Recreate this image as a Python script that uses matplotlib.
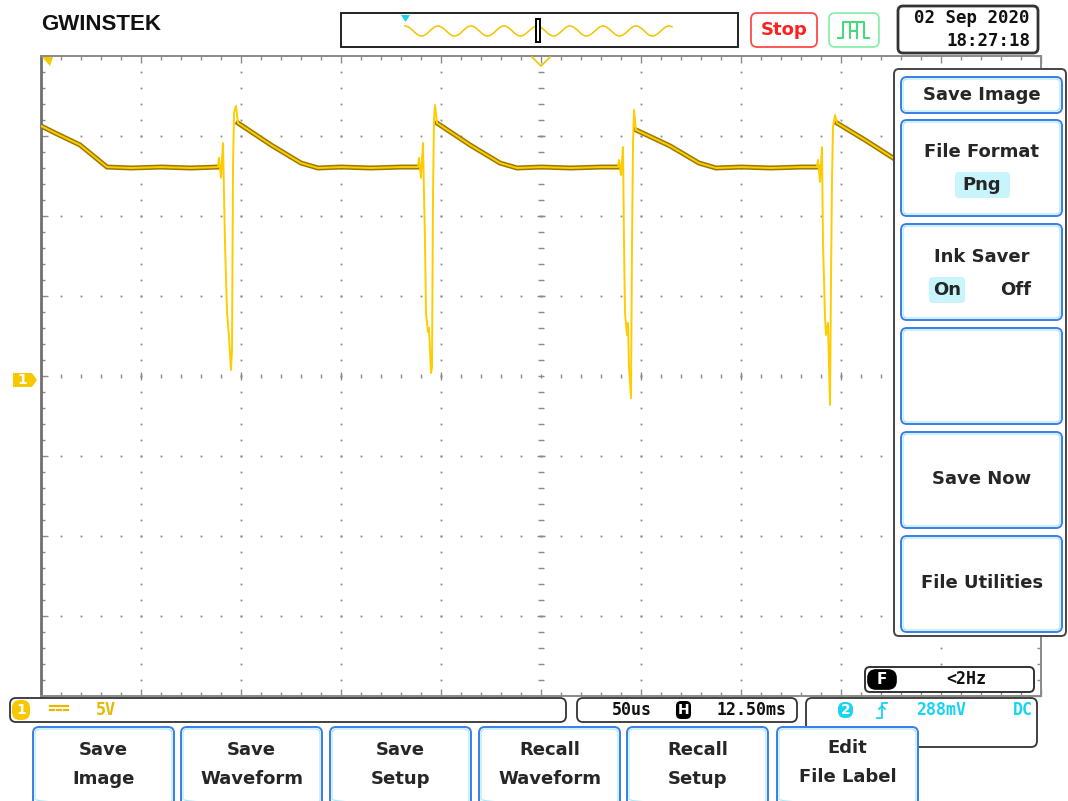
import numpy as np
import matplotlib.pyplot as plt
from matplotlib.patches import FancyBboxPatch, Polygon, Rectangle

W, H = 1068, 801

# CH1 trace: 5 V/div, 50 us/div
# time in us from screen centre, volts from the CH1 ground marker
settle_t = [
    [-250, -243, -230.5, -217, -205, -190, -175, -161.5],
    [-151.5, -135, -120, -111.5, -100, -85, -70, -61.5],
    [-52, -35.5, -20.5, -12, 0, 15, 30, 38.5],
    [47.5, 64.5, 79, 87.5, 100, 115, 130, 138],
    [148, 162, 176],
]
settle_v = [
    [15.63, 15.19, 14.44, 13.06, 13.0, 13.06, 13.0, 13.06],
    [15.81, 14.44, 13.31, 13.0, 13.06, 13.0, 13.06, 13.06],
    [15.81, 14.44, 13.31, 13.0, 13.06, 13.0, 13.06, 13.06],
    [15.38, 14.38, 13.31, 13.0, 13.06, 13.0, 13.06, 13.06],
    [15.81, 14.75, 13.63],
]
edge_t = [
    [-161, -160, -159, -158, -157, -156, -155, -154.5, -154, -153.5, -152.5],
    [-61, -60, -59, -58, -57.5, -56.5, -56, -55, -54.5, -54, -53.5, -53],
    [39, 40, 41, 41.5, 42, 43, 43.5, 44, 45, 45.5, 46, 46.5],
    [138.5, 139.5, 140.5, 141, 142, 142.5, 143.5, 144, 144.5, 145, 145.5, 146, 147],
]
edge_v = [
    [13.63, 12.38, 14.56, 8.31, 4.0, 2.44, 0.38, 1.63, 13.06, 16.44, 16.88],
    [13.63, 12.38, 14.56, 8.31, 3.94, 2.75, 3.0, 0.19, 0.56, 11.19, 16.0, 16.94],
    [13.5, 12.56, 14.31, 8.31, 3.94, 2.56, 3.31, 0.56, -1.38, 8.31, 14.44, 16.63],
    [13.5, 12.13, 14.31, 8.38, 3.69, 2.56, 3.31, 0.56, -1.81, 6.0, 12.25, 15.56, 16.31],
]

date_text = ["02 Sep 2020", "18:27:18"]
side_labels = ["Save Image", "File Format", "Ink Saver", "", "Save Now", "File Utilities"]
bottom_labels = [("Save", "Image"), ("Save", "Waveform"), ("Save", "Setup"),
                 ("Recall", "Waveform"), ("Recall", "Setup"), ("Edit", "File Label")]

YEL = "#ffcc00"
DARKYEL = "#9a7b00"
GRID = "#8a8a8a"
CYAN = "#19d3f0"
BLUE = "#3a7de6"
TXT = "#262626"
MONO = "DejaVu Sans Mono"

fig = plt.figure(figsize=(W / 100, H / 100), dpi=100)
fig.patch.set_facecolor("white")

# ---- scope graticule ----
ax = fig.add_axes([41 / W, 1 - 696 / H, 1000 / W, 640 / H])
ax.set_xlim(-250, 250)
ax.set_ylim(-20, 20)
ax.set_xticks(np.arange(-250, 251, 50))
ax.set_xticks(np.arange(-250, 251, 10), minor=True)
ax.set_yticks(np.arange(-20, 21, 5))
ax.set_yticks(np.arange(-20, 21, 1), minor=True)
ax.tick_params(which="both", direction="in", top=True, right=True, bottom=True, left=True,
               labelbottom=False, labelleft=False, color=GRID, width=1)
ax.tick_params(which="major", length=5)
ax.tick_params(which="minor", length=3)
for s in ax.spines.values():
    s.set_color(GRID)
    s.set_linewidth(1.4)
ax.spines["left"].set_color("#707070")
ax.spines["left"].set_linewidth(2)

xmaj = [x for x in range(-200, 201, 50) if x != 0]
ymaj = [y for y in range(-15, 16, 5) if y != 0]
ymin = np.arange(-19, 20, 1)
xmin = np.arange(-240, 241, 10)
for x in xmaj:
    ax.plot(np.full(len(ymin), x), ymin, "s", ms=1.3, color=GRID, mec="none", zorder=1)
for y in ymaj:
    ax.plot(xmin, np.full(len(xmin), y), "s", ms=1.3, color=GRID, mec="none", zorder=1)
ax.plot(np.zeros(len(ymin)), ymin, "_", ms=4, mew=1, color=GRID, zorder=1)
ax.plot(xmin, np.zeros(len(xmin)), "|", ms=3.5, mew=1, color=GRID, zorder=1)
ax.plot(np.zeros(len(ymaj)), ymaj, "_", ms=6, mew=1, color=GRID, zorder=1)
ax.plot(xmaj, np.zeros(len(xmaj)), "|", ms=6, mew=1, color=GRID, zorder=1)

# trace: dark dotted body on slow parts, bright line everywhere
full_t, full_v = list(settle_t[0]), list(settle_v[0])
for k in range(4):
    full_t += edge_t[k] + settle_t[k + 1]
    full_v += edge_v[k] + settle_v[k + 1]
for t, v in zip(settle_t, settle_v):
    ax.plot(t, v, color=DARKYEL, lw=3.6, solid_joinstyle="miter", zorder=2)
ax.plot(full_t, full_v, color=YEL, lw=1.4, zorder=3)

# ---- screen furniture in pixel coordinates ----
ui = fig.add_axes([0, 0, 1, 1], zorder=5)
ui.set_xlim(0, W)
ui.set_ylim(H, 0)
ui.axis("off")
ui.patch.set_alpha(0)


def rbox(x0, y0, x1, y1, ec, fc="white", lw=1.2, r=6, z=5):
    ui.add_patch(FancyBboxPatch((x0, y0), x1 - x0, y1 - y0,
                                boxstyle=f"round,pad=0,rounding_size={r}",
                                ec=ec, fc=fc, lw=lw, zorder=z))


def button(x0, y0, x1, y1):
    rbox(x0, y0, x1, y1, BLUE, lw=1.4, r=6, z=6)
    rbox(x0 + 2, y0 + 2, x1 - 2, y1 - 2, "#a6e8f7", fc="none", lw=0.8, r=5, z=6)


def label(x, y, s, **kw):
    kw.setdefault("fontsize", 13)
    kw.setdefault("fontweight", "bold")
    kw.setdefault("color", TXT)
    ui.text(x, y, s, ha=kw.pop("ha", "center"), va="center", zorder=8, **kw)


label(41, 24, "GWINSTEK", fontsize=16, family="Liberation Sans", ha="left", color="#111111")

# memory bar with small sine icon
ui.add_patch(Rectangle((341, 13), 397, 34, fc="white", ec="#222222", lw=1.4, zorder=5))
sx = np.linspace(405, 672, 300)
ui.plot(sx, 31 - 5 * np.cos((sx - 405) / 33 * 2 * np.pi), color="#f2c300", lw=1.1, zorder=6)
ui.add_patch(Polygon([[401, 15], [410, 15], [405.5, 22]], closed=True, fc=CYAN, ec="none", zorder=7))
ui.add_patch(Rectangle((536, 19), 4, 23, fc="white", ec="black", lw=1.4, zorder=7))

rbox(751, 13, 817, 47, "#ff4a4a", lw=1.3, r=6)
label(784, 30, "Stop", color="#ff2020")
rbox(829, 13, 879, 47, "#8af0aa", lw=1.3, r=6)
ui.plot([838, 843, 843, 864, 864, 869], [38, 38, 22, 22, 38, 38], color="#3fdc78", lw=1.4, zorder=7)
ui.plot([850, 850], [24, 38], color="#3fdc78", lw=1.4, zorder=7)
ui.plot([857, 857], [24, 38], color="#3fdc78", lw=1.4, zorder=7)
ui.plot([850, 857], [31, 31], color="#3fdc78", lw=1.4, zorder=7)

rbox(898, 6, 1038, 53, "#333333", lw=2.0, r=5)
label(1030, 18, date_text[0], fontsize=12.5, family=MONO, ha="right", color="#111111")
label(1030, 41, date_text[1], fontsize=12.5, family=MONO, ha="right", color="#111111")

# trigger position / ch1 markers
ui.plot([532, 541, 550], [57, 66, 57], color="#f2c300", lw=1.2, zorder=6)
ui.add_patch(Polygon([[42, 57], [53, 57], [50, 66]], closed=True, fc="#f7c800", ec="none", zorder=6))
ui.add_patch(Polygon([[13, 373], [32, 373], [37, 380], [32, 387], [13, 387]], closed=True,
                     fc="#f7c800", ec="none", zorder=6))
label(22, 380.5, "1", fontsize=10, color="white")

# side menu
rbox(894, 69, 1066, 636, "#444444", lw=1.4, r=5, z=5)
side_y = [(77, 113), (120, 216), (224, 320), (328, 424), (432, 528), (536, 632)]
for (y0, y1), lab in zip(side_y, side_labels):
    button(901, y0, 1062, y1)
label(982, 95, side_labels[0])
label(982, 152, side_labels[1])
rbox(955, 172, 1010, 198, "none", fc="#c8f5fb", r=4, z=7)
label(982, 185, "Png")
label(982, 257, side_labels[2])
rbox(929, 277, 965, 303, "none", fc="#c8f5fb", r=4, z=7)
label(947, 290, "On")
label(1016, 290, "Off")
label(982, 479, side_labels[4])
label(982, 583, side_labels[5])

# frequency readout
rbox(865, 667, 1034, 692, "#333333", lw=1.4, r=5)
rbox(868, 670, 896, 689, "black", fc="black", r=8, z=6)
label(882, 679.5, "F", fontsize=11, color="white")
label(966, 679.5, "<2Hz", fontsize=12, family=MONO, color="#111111")

# status bar
rbox(10, 698, 566, 722, "#333333", lw=1.3, r=6)
rbox(12, 700, 30, 720, "none", fc="#f7c800", r=8, z=6)
label(21, 710, "1", fontsize=10, color="white")
ui.plot([50, 68], [706, 706], color="#e8b800", lw=1.6, zorder=6)
ui.plot([50, 54], [710, 710], color="#e8b800", lw=1.6, zorder=6)
ui.plot([57, 61], [710, 710], color="#e8b800", lw=1.6, zorder=6)
ui.plot([64, 68], [710, 710], color="#e8b800", lw=1.6, zorder=6)
label(96, 710, "5V", fontsize=12, family=MONO, color="#e8b800", ha="left")

rbox(577, 698, 797, 722, "#333333", lw=1.3, r=6)
label(632, 710, "50us", fontsize=12, family=MONO, color="#111111")
rbox(676, 701, 691, 719, "none", fc="black", r=5, z=6)
label(683.5, 710, "H", fontsize=10, color="white")
label(751, 710, "12.50ms", fontsize=12, family=MONO, color="#111111")

rbox(806, 698, 1037, 747, "#333333", lw=1.3, r=6)
ui.add_patch(FancyBboxPatch((838, 702), 15, 16, boxstyle="round,pad=0,rounding_size=7",
                            fc=CYAN, ec="none", zorder=6))
label(845.5, 710, "2", fontsize=10, color="white")
ui.plot([877, 882, 882, 887], [718, 718, 703, 703], color=CYAN, lw=1.3, zorder=7)
ui.plot([879, 882, 885], [709, 706, 709], color=CYAN, lw=1.3, zorder=7)
label(941, 710, "288mV", fontsize=12, family=MONO, color=CYAN)
label(1033, 710, "DC", fontsize=12, family=MONO, color=CYAN, ha="right")

# soft keys
bx = [33, 181, 330, 479, 627, 777]
for x0, (l1, l2) in zip(bx, bottom_labels):
    button(x0, 727, x0 + 141, 806)
    dy = -2 if l1 == "Edit" else 0
    label(x0 + 70.5, 750 + dy, l1)
    label(x0 + 70.5, 779 + dy, l2)

fig.savefig("out.png", dpi=100, facecolor="white")
